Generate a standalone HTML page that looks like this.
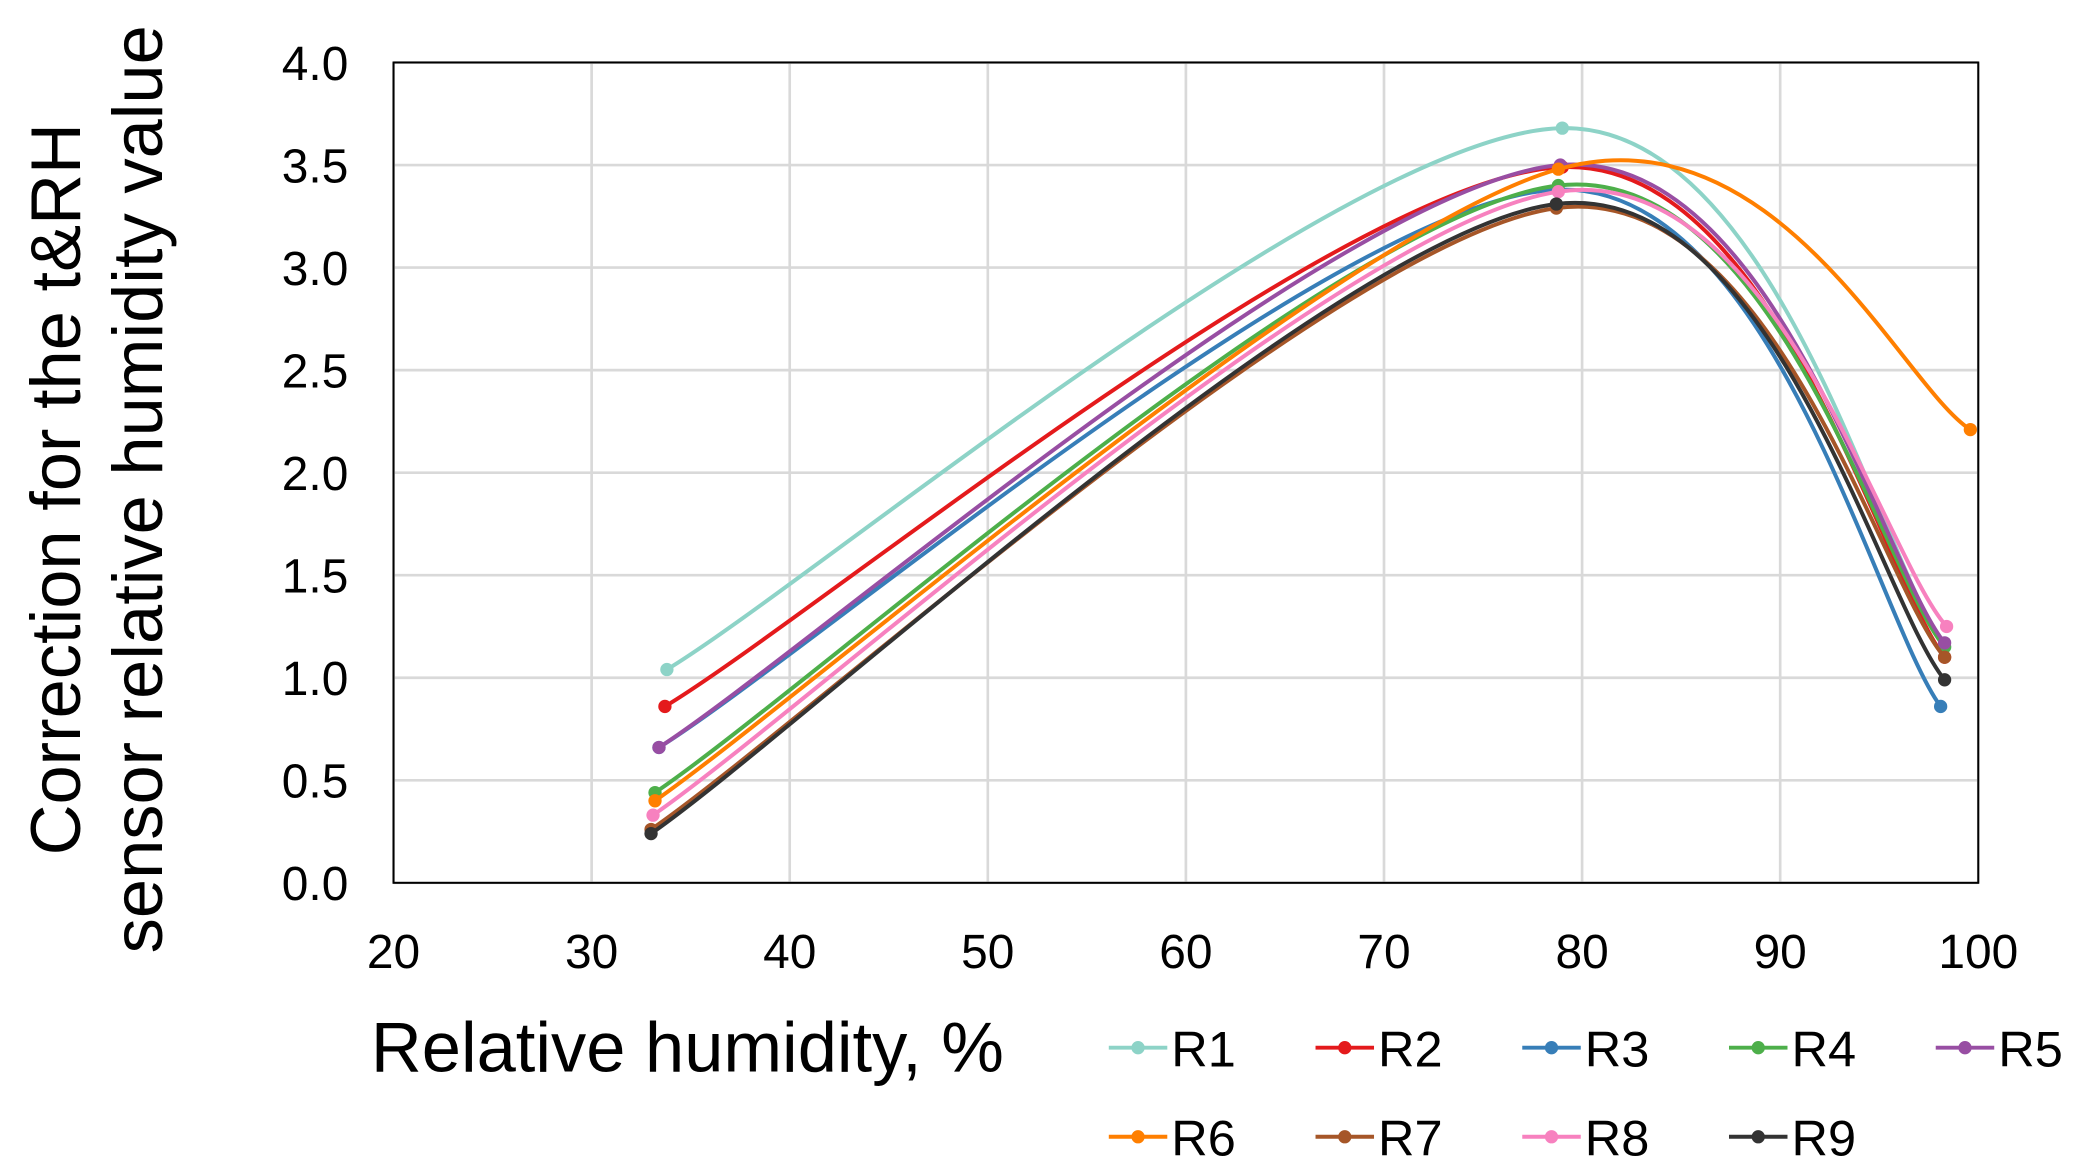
<!DOCTYPE html>
<html><head><meta charset="utf-8"><style>
html,body{margin:0;padding:0;background:#fff;}
svg{display:block;font-family:"Liberation Sans",Arial,sans-serif;}
</style></head><body>
<svg id="chart" width="2074" height="1174" viewBox="0 0 1560 883" preserveAspectRatio="none" xmlns="http://www.w3.org/2000/svg">
<g id="grid"></g>
<rect x="296" y="47" width="1192" height="617" fill="none" stroke="#000" stroke-width="1.5"/>
<g id="ticks" font-size="36" fill="#000"></g>
<g id="series"></g>
<text x="279" y="806" font-size="53">Relative humidity, %</text>
<g transform="translate(0,368) rotate(-90)" font-size="53" text-anchor="middle">
<text x="0" y="60">Correction for the t&amp;RH</text>
<text x="0" y="122">sensor relative humidity value</text>
</g>
<g id="legend" font-size="38"></g>
</svg>
<script>
const seriesNames=["R1","R2","R3","R4","R5","R6","R7","R8","R9"];
const colors=["#8dd3c7","#e41a1c","#377eb8","#4daf4a","#984ea3","#ff7f00","#a65628","#f781bf","#333333"];
const xVals=[[33.8,79.0,98.3],[33.7,79.0,98.3],[33.4,78.8,98.1],[33.2,78.8,98.3],[33.4,78.9,98.3],[33.2,78.8,99.6],[33.0,78.7,98.3],[33.1,78.8,98.4],[33.0,78.7,98.3]];
const yVals=[[1.04,3.68,1.15],[0.86,3.49,1.10],[0.66,3.38,0.86],[0.44,3.40,1.15],[0.66,3.50,1.17],[0.40,3.48,2.21],[0.26,3.29,1.10],[0.33,3.37,1.25],[0.24,3.31,0.99]];
const xTicks=[20,30,40,50,60,70,80,90,100];
const yTicks=[0,0.5,1,1.5,2,2.5,3,3.5,4];
const NS="http://www.w3.org/2000/svg";
const X=v=>296+(v-20)*(1192/80);
const Y=v=>664-v*(617/4);
function mk(t,a,p){const e=document.createElementNS(NS,t);for(const k in a)e.setAttribute(k,a[k]);p.appendChild(e);return e;}
const grid=document.getElementById('grid'),ticks=document.getElementById('ticks');
xTicks.forEach(t=>{
 const l=mk('line',{x1:X(t),x2:X(t),y1:47,y2:664,stroke:'#d9d9d9','stroke-width':2},grid);
 
 
 const tx=mk('text',{x:X(t),y:728,'text-anchor':'middle'},ticks);tx.textContent=t;
 
 
});
yTicks.forEach(t=>{
 const l=mk('line',{x1:296,x2:1488,y1:Y(t),y2:Y(t),stroke:'#d9d9d9','stroke-width':2},grid);
 
 
 const tx=mk('text',{x:262,y:Y(t)+13,'text-anchor':'end'},ticks);tx.textContent=t.toFixed(1);
 
 
});
const sg=document.getElementById('series');
seriesNames.forEach((n,i)=>{
 const p=xVals[i].map((x,j)=>[X(x),Y(yVals[i][j])]);
 const tan=[];
 for(let j=0;j<p.length;j++){
  const a=p[Math.max(0,j-1)],b=p[Math.min(p.length-1,j+1)];
  tan.push([(b[0]-a[0])/6,(b[1]-a[1])/6]);
 }
 let d=`M${p[0][0]},${p[0][1]}`;
 for(let j=0;j<p.length-1;j++){
  d+=` C${p[j][0]+tan[j][0]},${p[j][1]+tan[j][1]} ${p[j+1][0]-tan[j+1][0]},${p[j+1][1]-tan[j+1][1]} ${p[j+1][0]},${p[j+1][1]}`;
 }
 const path=mk('path',{d:d,fill:'none',stroke:colors[i],'stroke-width':3},sg);
 
 
 p.forEach(q=>{
  const c=mk('circle',{cx:q[0],cy:q[1],r:5,fill:colors[i]},sg);
  
  
 });
});
const lg=document.getElementById('legend');
seriesNames.forEach((n,i)=>{
 const col=i%5,row=Math.floor(i/5);
 const x=834+col*155.5,y=788+row*67;
 const g=mk('g',{},lg);
 
 
 mk('line',{x1:x,x2:x+44,y1:y,y2:y,stroke:colors[i],'stroke-width':3},g);
 mk('circle',{cx:x+22,cy:y,r:5,fill:colors[i]},g);
 const t=mk('text',{x:x+47,y:y+14},g);t.textContent=n;
});
</script>
</body></html>
